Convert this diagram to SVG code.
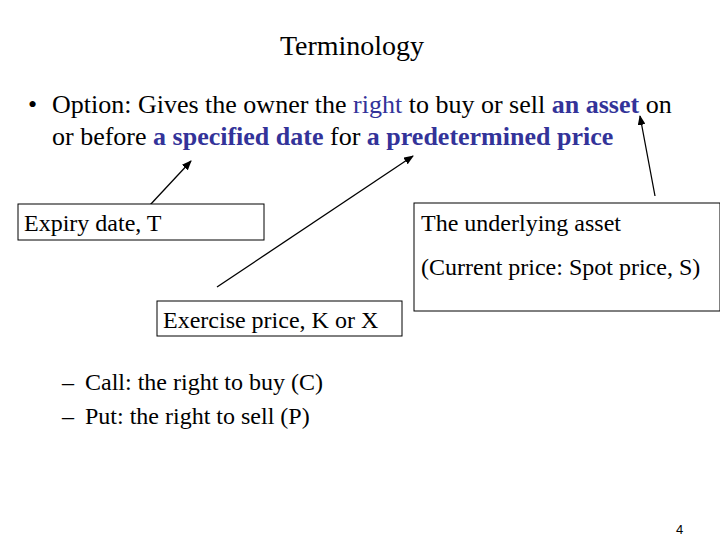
<svg xmlns="http://www.w3.org/2000/svg" width="720" height="540" viewBox="0 0 720 540" font-family="Liberation Serif, Times New Roman, serif">
<style>
.t{font-size:28px}.b{font-size:26px}.s{font-size:24px}
.hl{fill:#333399}.bd{font-weight:bold;fill:#333399}
.box{fill:#fff;stroke:#000;stroke-width:1}
.c line{stroke:#000;stroke-width:1.3;marker-end:url(#ah)}
</style>
<defs><marker id="ah" markerWidth="10" markerHeight="8" refX="9" refY="4" orient="auto" markerUnits="userSpaceOnUse"><path d="M0,0L10,4L0,8z" fill="#000"/></marker></defs>
<rect width="720" height="540" fill="#fff"/>
<text x="352" y="55" class="t" text-anchor="middle">Terminology</text>
<text x="28" y="113" class="b">•</text>
<text x="52" y="113" class="b">Option: Gives the owner the <tspan class="hl">right</tspan> to buy or sell <tspan class="bd">an asset</tspan> on</text>
<text x="52" y="145" class="b">or before <tspan class="bd">a specified date</tspan> for <tspan class="bd">a predetermined price</tspan></text>
<g class="c">
<line x1="150" y1="205" x2="191" y2="161"/>
<line x1="217" y1="287" x2="413" y2="156"/>
<line x1="655" y1="196" x2="640" y2="116"/>
</g>
<g id="expiry"><rect class="box" x="18" y="204" width="246" height="36"/><text x="24" y="231" class="s">Expiry date, T</text></g>
<g id="underlying"><rect class="box" x="414" y="203" width="306" height="108"/><text x="421" y="231" class="s">The underlying asset</text><text x="421" y="275" class="s">(Current price: Spot price, S)</text></g>
<g id="exercise"><rect class="box" x="157" y="301" width="245" height="35"/><text x="163" y="328" class="s">Exercise price, K or X</text></g>
<text x="62" y="390" class="s">–</text><text x="85" y="390" class="s">Call: the right to buy (C)</text>
<text x="62" y="424" class="s">–</text><text x="85" y="424" class="s">Put: the right to sell (P)</text>
<text x="676" y="534" font-size="13" font-family="Liberation Sans, Arial, sans-serif">4</text>
</svg>
